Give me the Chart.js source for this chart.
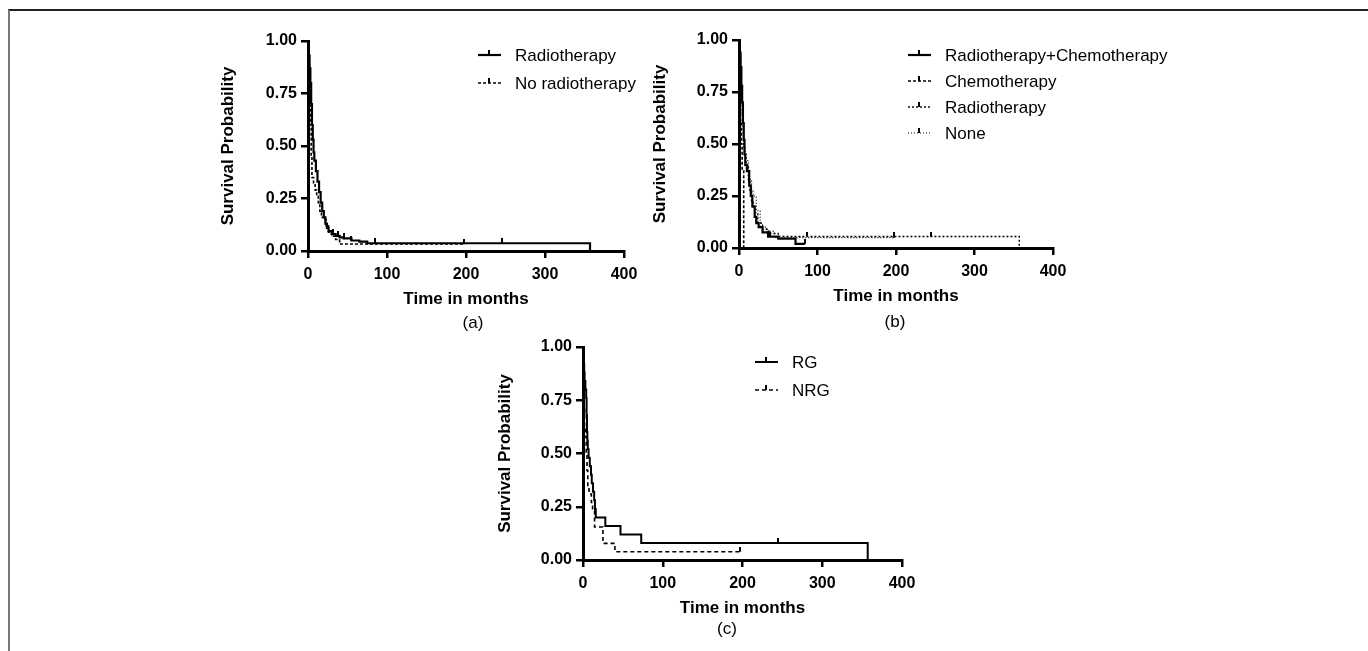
<!DOCTYPE html>
<html>
<head>
<meta charset="utf-8">
<script src="https://cdn.jsdelivr.net/npm/chart.js@4.4.0/dist/chart.umd.min.js"></script>
<style>
  body { margin: 0; background: #fff; width: 1368px; height: 651px; overflow: hidden; position: relative; font-family: "Liberation Sans", Arial, sans-serif; }
  .frame { position: absolute; left: 8px; top: 9px; width: 1400px; height: 700px; border-top: 2px solid #222; border-left: 2px solid #777; }
  .panel { position: absolute; }
  .tag { position: absolute; font-size: 17px; color: #000; transform: translate(-50%, -50%); }
</style>
</head>
<body>
<div class="frame"></div>
<canvas id="chartA" class="panel" width="470" height="297" style="left:200px;top:20px"></canvas>
<canvas id="chartB" class="panel" width="560" height="294" style="left:631px;top:20px"></canvas>
<canvas id="chartC" class="panel" width="470" height="300" style="left:475px;top:326px"></canvas>
<div class="tag" style="left:473px;top:323px">(a)</div>
<div class="tag" style="left:895px;top:322px">(b)</div>
<div class="tag" style="left:727px;top:629px">(c)</div>

<script>
// Axis ticks
const timeTicks = [0, 100, 200, 300, 400];
const survTicks = [0, 0.25, 0.5, 0.75, 1];

// (a) Radiotherapy vs no radiotherapy
const radioTime = [0, 0.5, 1, 2, 3, 4, 5, 6, 7, 8, 10, 12, 14, 16, 18, 20, 22, 24, 26, 30, 35, 40, 45, 55, 65, 75, 357];
const radioSurv = [1, 0.97, 0.93, 0.87, 0.8, 0.7, 0.6, 0.53, 0.47, 0.43, 0.38, 0.33, 0.28, 0.23, 0.19, 0.16, 0.13, 0.11, 0.095, 0.08, 0.072, 0.065, 0.06, 0.05, 0.045, 0.037, 0];
const radioCens = [32, 38, 46, 55, 85, 245];
const noRadioTime = [0, 0.5, 1, 2, 3, 4, 5, 7, 9, 11, 13, 15, 17, 20, 23, 26, 30, 35, 40];
const noRadioSurv = [1, 0.9, 0.8, 0.7, 0.6, 0.45, 0.35, 0.32, 0.29, 0.26, 0.23, 0.19, 0.16, 0.15, 0.12, 0.09, 0.07, 0.055, 0.033];
const noRadioCens = [197];

// (b) Treatment combinations
const rcTime = [0, 0.5, 1, 2, 3, 4, 5, 6, 7, 8, 10, 13, 15, 17, 20, 22, 25, 30, 37, 50, 72];
const rcSurv = [1, 0.97, 0.94, 0.87, 0.78, 0.7, 0.6, 0.52, 0.45, 0.4, 0.37, 0.3, 0.25, 0.2, 0.15, 0.12, 0.1, 0.075, 0.055, 0.045, 0.02];
const rcCens = [40, 84];
const chemoTime = [0, 0.5, 1, 1.5, 2, 3, 4, 6];
const chemoSurv = [1, 0.9, 0.8, 0.7, 0.6, 0.5, 0.38, 0];
const chemoCens = [];
const rtTime = [0, 1, 2, 3, 4, 5, 6, 7, 9, 12, 14, 16, 18, 20, 24, 30, 38, 50, 357];
const rtSurv = [1, 0.92, 0.85, 0.78, 0.7, 0.6, 0.5, 0.45, 0.4, 0.32, 0.27, 0.22, 0.19, 0.17, 0.12, 0.09, 0.07, 0.055, 0];
const rtCens = [87, 197, 245];
const noneTime = [0, 1, 2, 3, 4, 5, 6, 8, 12, 16, 18, 22, 27, 35, 45];
const noneSurv = [1, 0.9, 0.82, 0.75, 0.65, 0.55, 0.48, 0.42, 0.33, 0.28, 0.25, 0.18, 0.1, 0.08, 0.05];
const noneCens = [197];

// (c) RG vs NRG
const rgTime = [0, 0.5, 1, 1.5, 2, 3, 4, 4.5, 5, 5.5, 6, 7, 8.5, 10, 11, 12.5, 14, 15, 16, 28, 47, 73, 357];
const rgSurv = [1, 0.96, 0.92, 0.88, 0.84, 0.8, 0.76, 0.68, 0.6, 0.56, 0.52, 0.48, 0.44, 0.4, 0.36, 0.32, 0.28, 0.24, 0.2, 0.16, 0.12, 0.08, 0];
const rgCens = [245];
const nrgTime = [0, 0.5, 1, 1.5, 2, 3, 4, 5, 6, 7.5, 10.5, 12, 14.5, 25, 40];
const nrgSurv = [1, 0.88, 0.8, 0.72, 0.62, 0.58, 0.5, 0.42, 0.35, 0.31, 0.27, 0.23, 0.155, 0.078, 0.039];
const nrgCens = [197];

const FONT = '"Liberation Sans", Arial, sans-serif';

// step points, carried on to the last censored time
function kmPoints(time, surv, cens) {
  const pts = time.map((t, i) => ({ x: t, y: surv[i] }));
  const last = time[time.length - 1];
  const tail = Math.max(last, ...cens);
  if (tail > last) pts.push({ x: tail, y: surv[surv.length - 1] });
  return pts;
}

function survAt(time, surv, t) {
  let s = 1;
  time.forEach((tt, i) => { if (tt <= t) s = surv[i]; });
  return s;
}

// small upward tick used for censored observations
function tickMark() {
  const c = document.createElement("canvas");
  c.width = 2;
  c.height = 10;
  const g = c.getContext("2d");
  g.fillStyle = "#000";
  g.fillRect(0, 0, 2, 5);
  return c;
}
const censorTick = tickMark();

function kmDatasets(series) {
  const out = [];
  series.forEach((s) => {
    out.push({
      label: s.label,
      data: kmPoints(s.time, s.surv, s.cens),
      stepped: true,
      borderColor: "#000",
      borderWidth: s.width,
      borderDash: s.dash,
      borderCapStyle: "butt",
      borderJoinStyle: "miter",
      pointRadius: 0,
      fill: false,
      clip: false,
    });
    out.push({
      label: s.label + " censored",
      censor: true,
      data: s.cens.map((t) => ({ x: t, y: survAt(s.time, s.surv, t) })),
      showLine: false,
      pointStyle: censorTick,
      pointRadius: 3,
      clip: false,
    });
  });
  return out;
}

// legend: dashed line with a tick, then the label
const kmLegend = {
  id: "kmLegend",
  afterDraw(chart, args, opts) {
    const ctx = chart.ctx;
    const items = chart.data.datasets.filter((d) => !d.censor);
    ctx.save();
    ctx.font = "17px " + FONT;
    ctx.textBaseline = "middle";
    ctx.fillStyle = "#000";
    ctx.strokeStyle = "#000";
    items.forEach((d, i) => {
      const y = opts.y + i * opts.gap;
      ctx.lineWidth = d.borderWidth;
      ctx.setLineDash(d.borderDash || []);
      ctx.beginPath();
      ctx.moveTo(opts.x, y);
      ctx.lineTo(opts.x + 23, y);
      ctx.stroke();
      ctx.setLineDash([]);
      ctx.fillRect(opts.x + 10, y - 5, 2, 5);
      ctx.fillText(d.label, opts.textX, y + 1);
    });
    ctx.restore();
  },
};

function makePanel(id, series, pad, titlePad, legend) {
  const tickFont = { family: FONT, size: 16, weight: "bold" };
  const titleFont = { family: FONT, size: 17, weight: "bold" };
  return new Chart(document.getElementById(id), {
    type: "line",
    data: { datasets: kmDatasets(series) },
    plugins: [kmLegend],
    options: {
      responsive: false,
      animation: false,
      events: [],
      layout: { padding: { top: pad.top, right: pad.right, left: 0, bottom: 0 } },
      plugins: {
        legend: { display: false },
        tooltip: { enabled: false },
        kmLegend: legend,
      },
      scales: {
        x: {
          type: "linear",
          min: 0,
          max: 400,
          afterBuildTicks: (s) => { s.ticks = timeTicks.map((v) => ({ value: v })); },
          ticks: { color: "#000", font: tickFont, padding: 7, maxRotation: 0 },
          grid: { drawOnChartArea: false, color: "#000", lineWidth: 2.5, tickLength: 7 },
          border: { color: "#000", width: 3 },
          title: { display: true, text: "Time in months", color: "#000", font: titleFont, padding: { top: 0, bottom: 7 } },
          afterFit: (s) => { s.height = 66; },
        },
        y: {
          type: "linear",
          min: 0,
          max: 1,
          afterBuildTicks: (s) => { s.ticks = survTicks.map((v) => ({ value: v })); },
          ticks: { color: "#000", font: tickFont, padding: 4, callback: (v) => v.toFixed(2) },
          grid: { drawOnChartArea: false, color: "#000", lineWidth: 2.5, tickLength: 7 },
          border: { color: "#000", width: 3 },
          title: { display: true, text: "Survival Probability", color: "#000", font: titleFont, padding: { top: titlePad, bottom: 0 } },
          afterFit: (s) => { s.width = 108; },
        },
      },
    },
  });
}

makePanel("chartA", [
  { label: "Radiotherapy", time: radioTime, surv: radioSurv, cens: radioCens, width: 2.2, dash: [] },
  { label: "No radiotherapy", time: noRadioTime, surv: noRadioSurv, cens: noRadioCens, width: 1.6, dash: [3, 2] },
], { top: 21, right: 46 }, 18, { x: 278, textX: 315, y: 35, gap: 28 });

makePanel("chartB", [
  { label: "Radiotherapy+Chemotherapy", time: rcTime, surv: rcSurv, cens: rcCens, width: 2.2, dash: [] },
  { label: "Chemotherapy", time: chemoTime, surv: chemoSurv, cens: chemoCens, width: 1.6, dash: [3, 2] },
  { label: "Radiotherapy", time: rtTime, surv: rtSurv, cens: rtCens, width: 1.4, dash: [2, 2] },
  { label: "None", time: noneTime, surv: noneSurv, cens: noneCens, width: 1.2, dash: [1, 2] },
], { top: 20, right: 138 }, 19, { x: 277, textX: 314, y: 35, gap: 26 });

makePanel("chartC", [
  { label: "RG", time: rgTime, surv: rgSurv, cens: rgCens, width: 2, dash: [] },
  { label: "NRG", time: nrgTime, surv: nrgSurv, cens: nrgCens, width: 1.6, dash: [4, 3] },
], { top: 21, right: 43 }, 20, { x: 280, textX: 317, y: 36, gap: 28 });
</script>
</body>
</html>
